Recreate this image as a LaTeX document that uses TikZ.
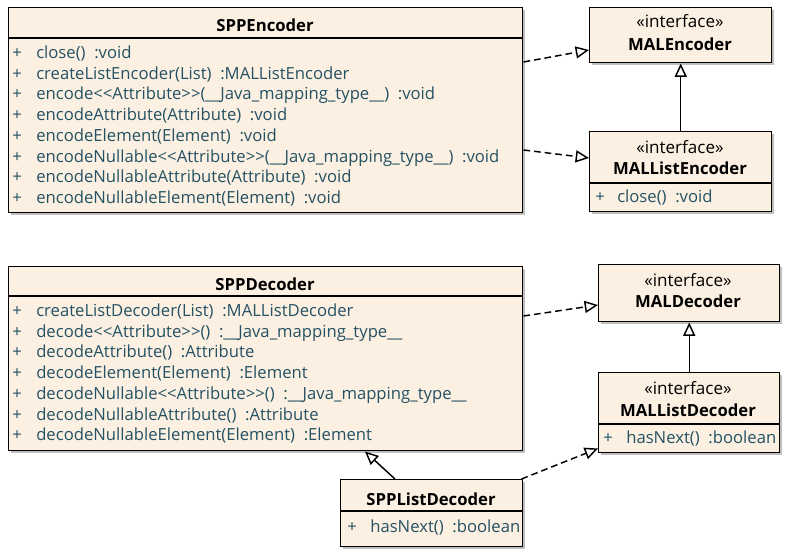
\documentclass[tikz,border=0pt]{standalone}
\usepackage{fontspec}
\setmainfont{Open Sans}[Ligatures=TeXOff]
\usetikzlibrary{positioning,calc,shadows,arrows.meta}
\definecolor{boxfill}{RGB}{251,240,225}
\definecolor{membertext}{RGB}{36,82,100}

\begin{document}
\begin{tikzpicture}[x=0.75pt,y=-0.75pt,font=\fontsize{12.5}{14}\selectfont,
    umlbox/.style={draw,line width=1.1pt,fill=boxfill,inner sep=0pt,anchor=north west,
        drop shadow={shadow xshift=1.5pt,shadow yshift=-1.5pt,fill=black,opacity=.25}},
    classname/.style={font=\fontsize{12.5}{14}\selectfont\bfseries},
    stereo/.style={inner sep=0pt,font=\fontsize{12.8}{14}\selectfont},
    member/.style={anchor=base west,text=membertext,inner sep=0pt},
    realize/.style={dashed,dash pattern=on 5pt off 3pt,line width=1.1pt,
        -{Triangle[open,length=10pt,width=9pt,line width=1.1pt]}},
    inherit/.style={line width=1.1pt,-{Triangle[open,length=10pt,width=9pt,line width=1.1pt]}}]
    \useasboundingbox (0,0) rectangle (790,557);

    % SPPEncoder
    \node[umlbox,minimum width=385.5pt,minimum height=153.75pt] (enc) at (8,7) {};
    \node[classname] (encname) at (265,25) {SPPEncoder};
    \draw[line width=1.1pt] (8,38) -- (522,38);
    \foreach \txt [count=\i] in {{close()\ \ :void},
        {createListEncoder(List)\ \ :MALListEncoder},
        {encode<<Attribute>>(\_\_Java\_mapping\_type\_\_)\ \ :void},
        {encodeAttribute(Attribute)\ \ :void},
        {encodeElement(Element)\ \ :void},
        {encodeNullable<<Attribute>>(\_\_Java\_mapping\_type\_\_)\ \ :void},
        {encodeNullableAttribute(Attribute)\ \ :void},
        {encodeNullableElement(Element)\ \ :void}} {
        \node[member] (encp\i) at (12,{58.5+(\i-1)*20.7}) {+};
        \node[member] (encm\i) at (36,{58.5+(\i-1)*20.7}) {\txt};
    }

    % MALEncoder
    \node[umlbox,minimum width=136.5pt,minimum height=41.25pt] (malenc) at (589,7) {};
    \node[stereo] (malencst) at (680,21) {«interface»};
    \node[classname] (malencname) at (680,44) {MALEncoder};

    % MALListEncoder
    \node[umlbox,minimum width=136.5pt,minimum height=60pt] (mallistenc) at (589,131) {};
    \node[stereo] (mallistencst) at (680,147) {«interface»};
    \node[classname] (mallistencname) at (680,168) {MALListEncoder};
    \draw[line width=1.1pt] (589,183) -- (771,183);
    \node[member] (mallistencp) at (595,202.5) {+};
    \node[member] (mallistencm) at (617,202.5) {close()\ \ :void};

    % SPPDecoder
    \node[umlbox,minimum width=385.5pt,minimum height=138pt] (dec) at (8,266) {};
    \node[classname] (decname) at (265,284) {SPPDecoder};
    \draw[line width=1.1pt] (8,296) -- (522,296);
    \foreach \txt [count=\i] in {{createListDecoder(List)\ \ :MALListDecoder},
        {decode<<Attribute>>()\ \ :\_\_Java\_mapping\_type\_\_},
        {decodeAttribute()\ \ :Attribute},
        {decodeElement(Element)\ \ :Element},
        {decodeNullable<<Attribute>>()\ \ :\_\_Java\_mapping\_type\_\_},
        {decodeNullableAttribute()\ \ :Attribute},
        {decodeNullableElement(Element)\ \ :Element}} {
        \node[member] (decp\i) at (12,{316.5+(\i-1)*20.7}) {+};
        \node[member] (decm\i) at (36,{316.5+(\i-1)*20.7}) {\txt};
    }

    % MALDecoder
    \node[umlbox,minimum width=135.75pt,minimum height=42.75pt] (maldec) at (598,264) {};
    \node[stereo] (maldecst) at (688,280) {«interface»};
    \node[classname] (maldecname) at (688,301) {MALDecoder};

    % MALListDecoder
    \node[umlbox,minimum width=135.75pt,minimum height=60pt] (mallistdec) at (598,372) {};
    \node[stereo] (mallistdecst) at (688,388) {«interface»};
    \node[classname] (mallistdecname) at (688,410) {MALListDecoder};
    \draw[line width=1.1pt] (598,424) -- (779,424);
    \node[member] (mallistdecp) at (603,443.5) {+};
    \node[member] (mallistdecm) at (626,443.5) {hasNext()\ \ :boolean};

    % SPPListDecoder
    \node[umlbox,minimum width=136.5pt,minimum height=50.25pt] (spplistdec) at (340,479) {};
    \node[classname] (spplistdecname) at (431,499) {SPPListDecoder};
    \draw[line width=1.1pt] (340,511) -- (522,511);
    \node[member] (spplistdecp) at (347,532.5) {+};
    \node[member] (spplistdecm) at (370,532.5) {hasNext()\ \ :boolean};

    % connectors
    \draw[realize] ($(enc.north east)+(0,55)$) -- ($(malenc.north west)+(0,43)$);
    \draw[realize] ($(enc.north east)+(0,143)$) -- ($(mallistenc.north west)+(0,27)$);
    \draw[inherit] (mallistenc.north) -- (malenc.south);
    \draw[realize] ($(dec.north east)+(0,50)$) -- ($(maldec.north west)+(0,41)$);
    \draw[inherit] (mallistdec.north) -- (maldec.south);
    \draw[inherit] ($(spplistdec.north west)+(55,0)$) -- ($(dec.south west)+(357,0)$);
    \draw[realize] ($(spplistdec.north east)+(-2,0)$) -- ($(mallistdec.south west)+(0,-5)$);
\end{tikzpicture}
\end{document}
